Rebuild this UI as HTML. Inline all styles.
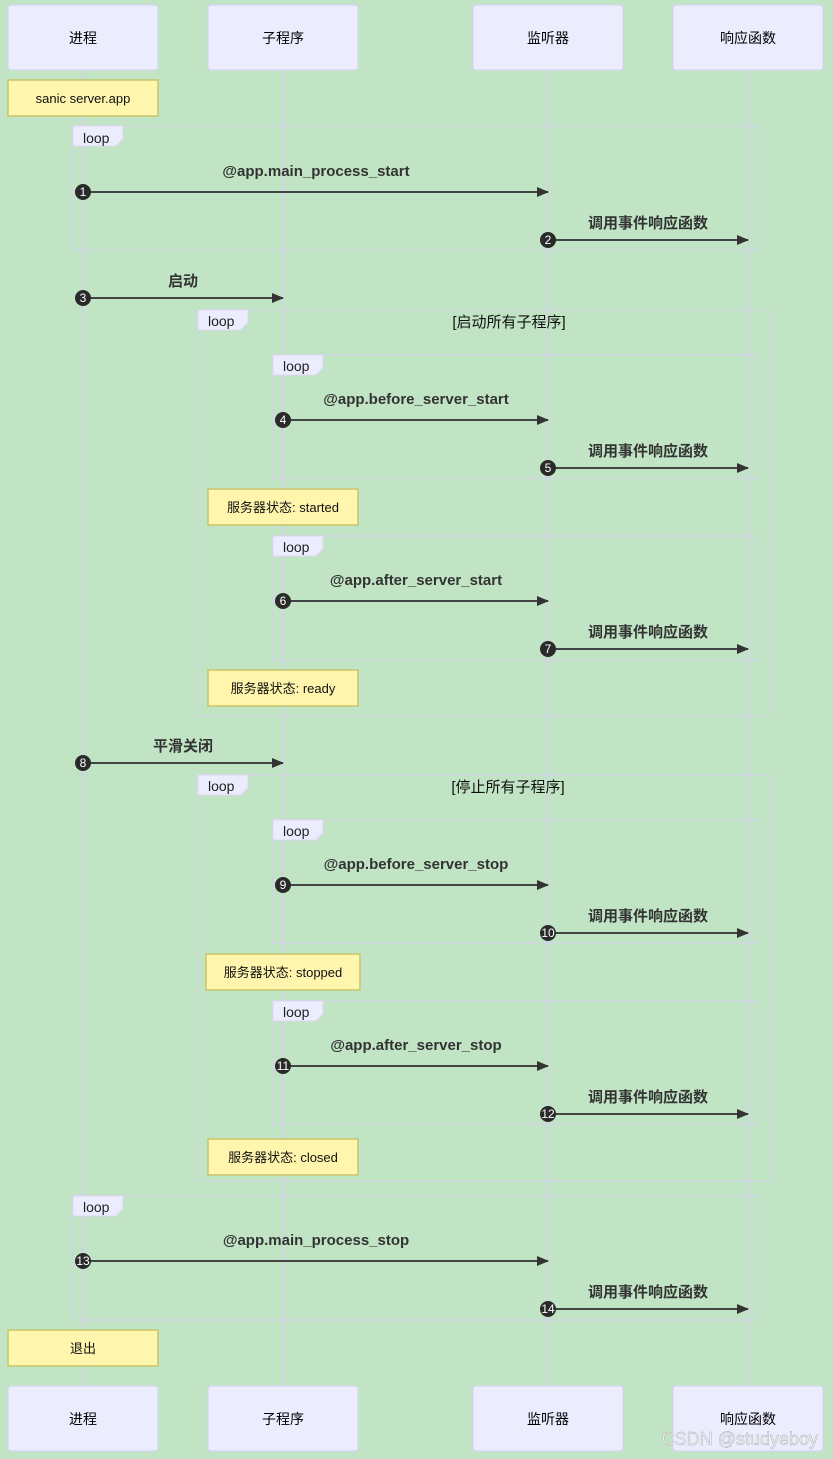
<!DOCTYPE html>
<html><head><meta charset="utf-8"><style>
html,body{margin:0;padding:0;background:#c1e5c4;}
svg{display:block;font-family:"Liberation Sans","Noto Sans CJK SC",sans-serif;}
.actor{fill:#ececff;stroke:#d5d0f0;stroke-width:1;}
.at{font-size:14px;fill:#000;text-anchor:middle;}
.life{stroke:#d9cdf3;stroke-width:1.5;}
.loop{fill:none;stroke:#d6cfee;stroke-width:2;stroke-dasharray:2,2;}
.tab{fill:#ececff;stroke:#ddd6f2;stroke-width:1;}
.tt{font-size:14px;fill:#222;}
.note{fill:#fff5ad;stroke:#c8c46a;stroke-width:1.5;}
.nt{font-size:13px;fill:#111;text-anchor:middle;}
.msg{stroke:#444;stroke-width:2;}
.ml{font-size:15px;font-weight:bold;fill:#333;text-anchor:middle;}
.num{fill:#2a2a2a;}
.nn{font-size:12px;fill:#fff;text-anchor:middle;}
.cond{font-size:15px;fill:#111;text-anchor:middle;}
</style></head><body>
<svg width="833" height="1459" viewBox="0 0 833 1459" xmlns="http://www.w3.org/2000/svg">
<defs><marker id="ar" markerWidth="12" markerHeight="10" refX="11" refY="5" orient="auto" markerUnits="userSpaceOnUse"><path d="M0,0 L12,5 L0,10 z" fill="#333"/></marker></defs>
<line class="life" x1="83" y1="70" x2="83" y2="1386"/>
<line class="life" x1="283" y1="70" x2="283" y2="1386"/>
<line class="life" x1="548" y1="70" x2="548" y2="1386"/>
<line class="life" x1="748" y1="70" x2="748" y2="1386"/>

<rect class="actor" x="8" y="5" width="150" height="65" rx="3"/><text class="at" x="83" y="43">进程</text>
<rect class="actor" x="208" y="5" width="150" height="65" rx="3"/><text class="at" x="283" y="43">子程序</text>
<rect class="actor" x="473" y="5" width="150" height="65" rx="3"/><text class="at" x="548" y="43">监听器</text>
<rect class="actor" x="673" y="5" width="150" height="65" rx="3"/><text class="at" x="748" y="43">响应函数</text>
<rect class="actor" x="8" y="1386" width="150" height="65" rx="3"/><text class="at" x="83" y="1424">进程</text>
<rect class="actor" x="208" y="1386" width="150" height="65" rx="3"/><text class="at" x="283" y="1424">子程序</text>
<rect class="actor" x="473" y="1386" width="150" height="65" rx="3"/><text class="at" x="548" y="1424">监听器</text>
<rect class="actor" x="673" y="1386" width="150" height="65" rx="3"/><text class="at" x="748" y="1424">响应函数</text>

<g>
<rect class="loop" x="73" y="126" width="685" height="124"/>
<rect class="loop" x="198" y="310" width="572" height="406"/>
<rect class="loop" x="273" y="355" width="485" height="123"/>
<rect class="loop" x="273" y="536" width="485" height="124"/>
<rect class="loop" x="198" y="775" width="572" height="406"/>
<rect class="loop" x="273" y="820" width="485" height="123"/>
<rect class="loop" x="273" y="1001" width="485" height="123"/>
<rect class="loop" x="73" y="1196" width="685" height="124"/>
</g>
<g>
<path class="tab" d="M73,126 H123 V139 L116,146 H73 Z"/><text class="tt" x="83" y="143">loop</text>
<path class="tab" d="M198,310 H248 V323 L241,330 H198 Z"/><text class="tt" x="208" y="326">loop</text>
<path class="tab" d="M273,355 H323 V368 L316,375 H273 Z"/><text class="tt" x="283" y="371">loop</text>
<path class="tab" d="M273,536 H323 V549 L316,556 H273 Z"/><text class="tt" x="283" y="552">loop</text>
<path class="tab" d="M198,775 H248 V788 L241,795 H198 Z"/><text class="tt" x="208" y="791">loop</text>
<path class="tab" d="M273,820 H323 V833 L316,840 H273 Z"/><text class="tt" x="283" y="836">loop</text>
<path class="tab" d="M273,1001 H323 V1014 L316,1021 H273 Z"/><text class="tt" x="283" y="1017">loop</text>
<path class="tab" d="M73,1196 H123 V1209 L116,1216 H73 Z"/><text class="tt" x="83" y="1212">loop</text>
<text class="cond" x="509" y="327">[启动所有子程序]</text>
<text class="cond" x="508" y="792">[停止所有子程序]</text>
</g>

<rect class="note" x="8" y="80" width="150" height="36"/><text class="nt" x="83" y="103">sanic server.app</text>
<rect class="note" x="208" y="489" width="150" height="36"/><text class="nt" x="283" y="512">服务器状态: started</text>
<rect class="note" x="208" y="670" width="150" height="36"/><text class="nt" x="283" y="693">服务器状态: ready</text>
<rect class="note" x="206" y="954" width="154" height="36"/><text class="nt" x="283" y="977">服务器状态: stopped</text>
<rect class="note" x="208" y="1139" width="150" height="36"/><text class="nt" x="283" y="1162">服务器状态: closed</text>
<rect class="note" x="8" y="1330" width="150" height="36"/><text class="nt" x="83" y="1353">退出</text>

<g>
<line class="msg" x1="83" y1="192" x2="548" y2="192" marker-end="url(#ar)"/><text class="ml" x="316" y="176">@app.main_process_start</text><circle class="num" cx="83" cy="192" r="8"/><text class="nn" x="83" y="196">1</text>
<line class="msg" x1="548" y1="240" x2="748" y2="240" marker-end="url(#ar)"/><text class="ml" x="648" y="228">调用事件响应函数</text><circle class="num" cx="548" cy="240" r="8"/><text class="nn" x="548" y="244">2</text>
<line class="msg" x1="83" y1="298" x2="283" y2="298" marker-end="url(#ar)"/><text class="ml" x="183" y="286">启动</text><circle class="num" cx="83" cy="298" r="8"/><text class="nn" x="83" y="302">3</text>
<line class="msg" x1="283" y1="420" x2="548" y2="420" marker-end="url(#ar)"/><text class="ml" x="416" y="404">@app.before_server_start</text><circle class="num" cx="283" cy="420" r="8"/><text class="nn" x="283" y="424">4</text>
<line class="msg" x1="548" y1="468" x2="748" y2="468" marker-end="url(#ar)"/><text class="ml" x="648" y="456">调用事件响应函数</text><circle class="num" cx="548" cy="468" r="8"/><text class="nn" x="548" y="472">5</text>
<line class="msg" x1="283" y1="601" x2="548" y2="601" marker-end="url(#ar)"/><text class="ml" x="416" y="585">@app.after_server_start</text><circle class="num" cx="283" cy="601" r="8"/><text class="nn" x="283" y="605">6</text>
<line class="msg" x1="548" y1="649" x2="748" y2="649" marker-end="url(#ar)"/><text class="ml" x="648" y="637">调用事件响应函数</text><circle class="num" cx="548" cy="649" r="8"/><text class="nn" x="548" y="653">7</text>
<line class="msg" x1="83" y1="763" x2="283" y2="763" marker-end="url(#ar)"/><text class="ml" x="183" y="751">平滑关闭</text><circle class="num" cx="83" cy="763" r="8"/><text class="nn" x="83" y="767">8</text>
<line class="msg" x1="283" y1="885" x2="548" y2="885" marker-end="url(#ar)"/><text class="ml" x="416" y="869">@app.before_server_stop</text><circle class="num" cx="283" cy="885" r="8"/><text class="nn" x="283" y="889">9</text>
<line class="msg" x1="548" y1="933" x2="748" y2="933" marker-end="url(#ar)"/><text class="ml" x="648" y="921">调用事件响应函数</text><circle class="num" cx="548" cy="933" r="8"/><text class="nn" x="548" y="937">10</text>
<line class="msg" x1="283" y1="1066" x2="548" y2="1066" marker-end="url(#ar)"/><text class="ml" x="416" y="1050">@app.after_server_stop</text><circle class="num" cx="283" cy="1066" r="8"/><text class="nn" x="283" y="1070">11</text>
<line class="msg" x1="548" y1="1114" x2="748" y2="1114" marker-end="url(#ar)"/><text class="ml" x="648" y="1102">调用事件响应函数</text><circle class="num" cx="548" cy="1114" r="8"/><text class="nn" x="548" y="1118">12</text>
<line class="msg" x1="83" y1="1261" x2="548" y2="1261" marker-end="url(#ar)"/><text class="ml" x="316" y="1245">@app.main_process_stop</text><circle class="num" cx="83" cy="1261" r="8"/><text class="nn" x="83" y="1265">13</text>
<line class="msg" x1="548" y1="1309" x2="748" y2="1309" marker-end="url(#ar)"/><text class="ml" x="648" y="1297">调用事件响应函数</text><circle class="num" cx="548" cy="1309" r="8"/><text class="nn" x="548" y="1313">14</text>
</g>
<text x="818" y="1445" text-anchor="end" style="font-size:18px;fill:#f4f4f4;opacity:0.85;stroke:#999;stroke-width:0.4">CSDN @studyeboy</text>
</svg>
</body></html>
